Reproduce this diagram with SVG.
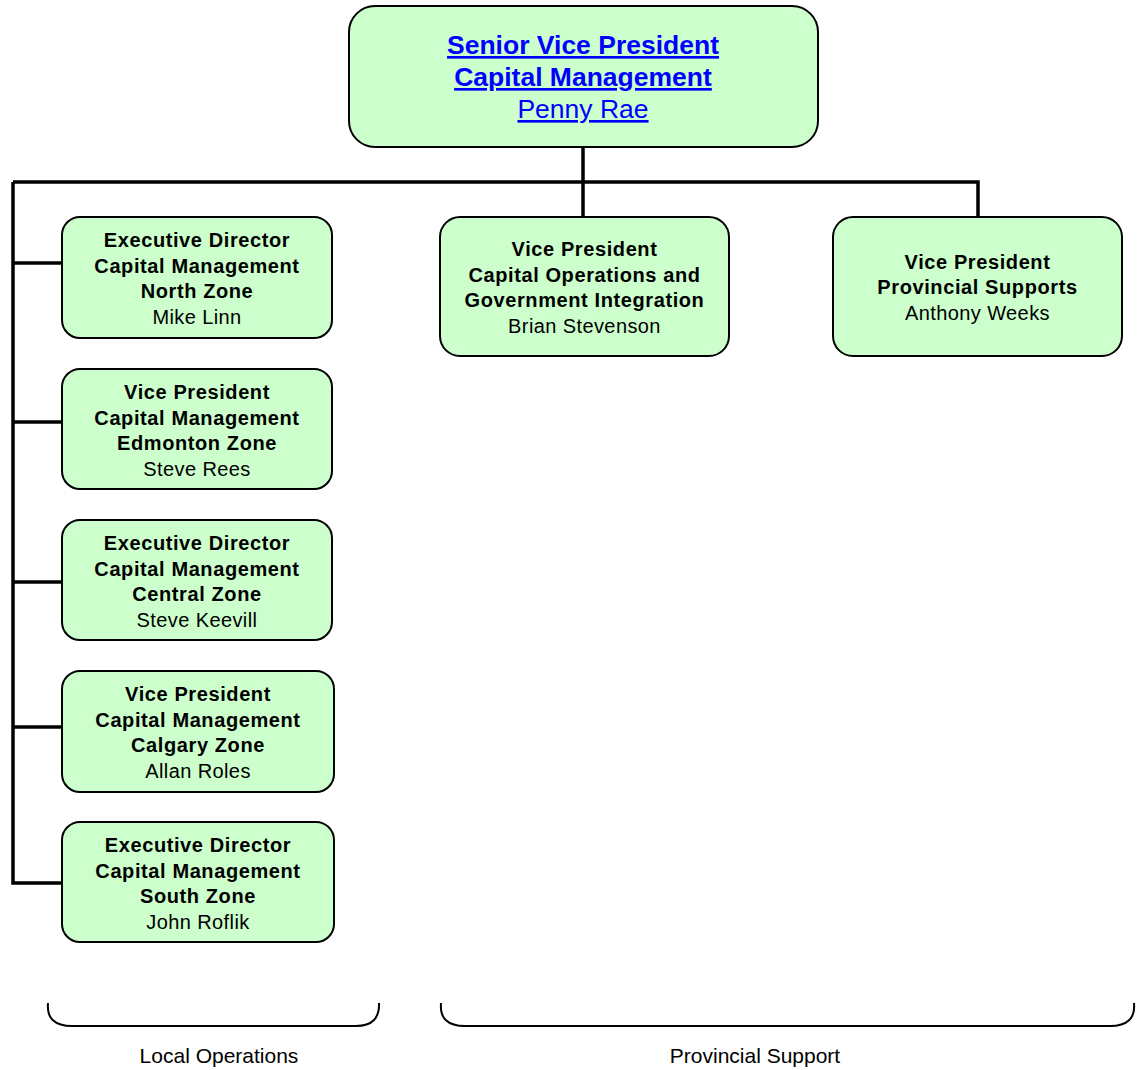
<svg xmlns="http://www.w3.org/2000/svg" width="1138" height="1070" viewBox="0 0 1138 1070">
<style>
.box{fill:#ccffcc;stroke:#000;stroke-width:2}
.t{font-family:"Liberation Sans",Arial,sans-serif;text-anchor:middle;fill:#000}
.b{font-size:20px;font-weight:bold;letter-spacing:0.6px}
.n{font-size:20px;letter-spacing:0.4px}
.top{font-family:"Liberation Sans",Arial,sans-serif;text-anchor:middle;fill:#0000ff;font-size:26.5px;text-decoration:underline}
.conn{fill:none;stroke:#000;stroke-width:3.5}
.brace{fill:none;stroke:#000;stroke-width:2}
.lbl{font-family:"Liberation Sans",Arial,sans-serif;text-anchor:middle;font-size:21px;fill:#000}
</style>
<rect width="1138" height="1070" fill="#fff"/>
<g id="connectors">
<path class="conn" d="M583,147 V217"/>
<path class="conn" d="M13,182 H978 V217"/>
<path class="conn" d="M13,182 V883 H62"/>
<path class="conn" d="M13,263 H62"/>
<path class="conn" d="M13,422 H62"/>
<path class="conn" d="M13,582 H62"/>
<path class="conn" d="M13,727 H62"/>
</g>
<g id="svp">
<rect class="box" x="349" y="6" width="469" height="141" rx="26"/>
<text class="top" x="583" y="54" font-weight="bold">Senior Vice President</text>
<text class="top" x="583" y="86" font-weight="bold">Capital Management</text>
<text class="top" x="583" y="118">Penny Rae</text>
</g>
<g id="north">
<rect class="box" x="62" y="217" width="270" height="121" rx="18"/>
<text class="t b" x="197" y="247">Executive Director</text>
<text class="t b" x="197" y="272.5">Capital Management</text>
<text class="t b" x="197" y="298">North Zone</text>
<text class="t n" x="197" y="323.5">Mike Linn</text>
</g>
<g id="edmonton">
<rect class="box" x="62" y="369" width="270" height="120" rx="18"/>
<text class="t b" x="197" y="399">Vice President</text>
<text class="t b" x="197" y="424.5">Capital Management</text>
<text class="t b" x="197" y="450">Edmonton Zone</text>
<text class="t n" x="197" y="475.5">Steve Rees</text>
</g>
<g id="central">
<rect class="box" x="62" y="520" width="270" height="120" rx="18"/>
<text class="t b" x="197" y="550">Executive Director</text>
<text class="t b" x="197" y="575.5">Capital Management</text>
<text class="t b" x="197" y="601">Central Zone</text>
<text class="t n" x="197" y="626.5">Steve Keevill</text>
</g>
<g id="calgary">
<rect class="box" x="62" y="671" width="272" height="121" rx="18"/>
<text class="t b" x="198" y="701">Vice President</text>
<text class="t b" x="198" y="726.5">Capital Management</text>
<text class="t b" x="198" y="752">Calgary Zone</text>
<text class="t n" x="198" y="777.5">Allan Roles</text>
</g>
<g id="south">
<rect class="box" x="62" y="822" width="272" height="120" rx="18"/>
<text class="t b" x="198" y="852">Executive Director</text>
<text class="t b" x="198" y="877.5">Capital Management</text>
<text class="t b" x="198" y="903">South Zone</text>
<text class="t n" x="198" y="928.5">John Roflik</text>
</g>
<g id="capops">
<rect class="box" x="440" y="217" width="289" height="139" rx="20"/>
<text class="t b" x="584.5" y="256">Vice President</text>
<text class="t b" x="584.5" y="281.5">Capital Operations and</text>
<text class="t b" x="584.5" y="307">Government Integration</text>
<text class="t n" x="584.5" y="332.5">Brian Stevenson</text>
</g>
<g id="provsup">
<rect class="box" x="833" y="217" width="289" height="139" rx="20"/>
<text class="t b" x="977.5" y="268.5">Vice President</text>
<text class="t b" x="977.5" y="294">Provincial Supports</text>
<text class="t n" x="977.5" y="319.5">Anthony Weeks</text>
</g>
<g id="local">
<path class="brace" d="M48,1003 Q46,1026 72,1026 H356 Q380,1026 379,1003"/>
<text class="lbl" x="219" y="1063">Local Operations</text>
</g>
<g id="provincial">
<path class="brace" d="M441,1003 Q439,1026 465,1026 H1110 Q1136,1026 1134,1003"/>
<text class="lbl" x="755" y="1063">Provincial Support</text>
</g>
</svg>
